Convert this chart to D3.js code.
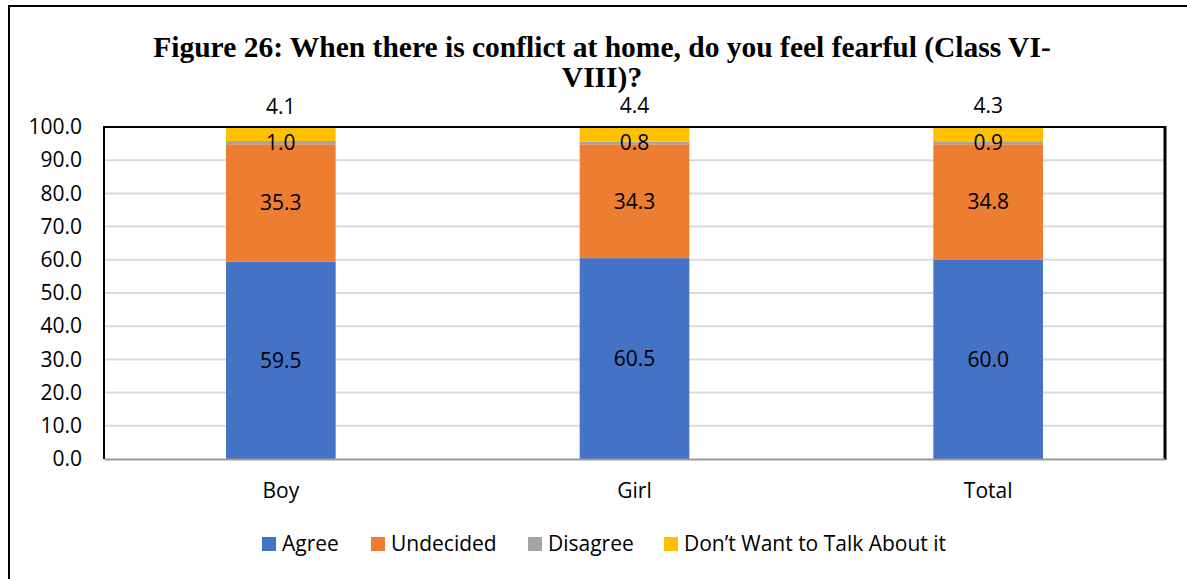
<!DOCTYPE html>
<html>
<head>
<meta charset="utf-8">
<script src="https://cdn.jsdelivr.net/npm/d3@7/dist/d3.min.js"></script>
<style>
  html, body { margin: 0; padding: 0; background: #fff; }
  svg { display: block; }
</style>
</head>
<body>
<svg id="chart" width="1187" height="579"></svg>
<script>
// Responses by group (percent)
const categories = ["Boy", "Girl", "Total"];
const seriesNames = ["Agree", "Undecided", "Disagree", "Don\u2019t Want to Talk About it"];
const agree = [59.5, 60.5, 60.0];
const undecided = [35.3, 34.3, 34.8];
const disagree = [1.0, 0.8, 0.9];
const dontWant = [4.1, 4.4, 4.3];
const yTicks = [0, 10, 20, 30, 40, 50, 60, 70, 80, 90, 100];
const titleLines = ["Figure 26: When there is conflict at home, do you feel fearful (Class VI-", "VIII)?"];

const colors = ["#4472C4", "#ED7D31", "#A5A5A5", "#FFC000"];
const seriesValues = [agree, undecided, disagree, dontWant];

const rows = categories.map((c, i) => {
  const r = { cat: c };
  seriesNames.forEach((s, k) => r[s] = seriesValues[k][i]);
  return r;
});

const svg = d3.select("#chart");
const labelFont = "'Open Sans', sans-serif";
const labelSize = 21;

// outer frame
svg.append("rect")
  .attr("x", 9).attr("y", 6).attr("width", 1200).attr("height", 600)
  .attr("fill", "none").attr("stroke", "#000").attr("stroke-width", 2);

// title
const title = svg.append("text")
  .attr("text-anchor", "middle")
  .attr("font-family", "'Liberation Serif', 'Times New Roman', serif")
  .attr("font-weight", "bold")
  .attr("font-size", 29.5)
  .attr("fill", "#000");
titleLines.forEach((t, i) => {
  title.append("tspan").attr("x", 602).attr("y", 57 + i * 30).text(t);
});

const plotL = 104, plotR = 1165, plotT = 127, plotB = 459;

const x = d3.scaleBand().domain(categories).range([plotL, plotR]).paddingInner(0.69).paddingOuter(0.345);
const y = d3.scaleLinear().domain([0, 100]).range([plotB, plotT]);

// gridlines
svg.append("g")
  .selectAll("line").data(yTicks.filter(d => d > 0 && d < 100)).join("line")
  .attr("x1", plotL).attr("x2", plotR)
  .attr("y1", d => y(d)).attr("y2", d => y(d))
  .attr("stroke", "#d9d9d9").attr("stroke-width", 2);

// stacked bars
const stack = d3.stack().keys(seriesNames);
const stacked = stack(rows);

const layers = svg.append("g").selectAll("g").data(stacked).join("g")
  .attr("fill", (d, i) => colors[i]);

layers.selectAll("rect").data(d => d).join("rect")
  .attr("x", d => x(d.data.cat))
  .attr("width", x.bandwidth())
  .attr("y", d => y(d[1]))
  .attr("height", d => y(d[0]) - y(d[1]));

// plot frame: top, left, right in black
svg.append("line").attr("x1", plotL).attr("x2", plotR).attr("y1", plotT).attr("y2", plotT)
  .attr("stroke", "#000").attr("stroke-width", 2);
svg.append("line").attr("x1", plotL).attr("x2", plotL).attr("y1", plotT - 1).attr("y2", plotB)
  .attr("stroke", "#000").attr("stroke-width", 2);
svg.append("line").attr("x1", plotR).attr("x2", plotR).attr("y1", plotT - 1).attr("y2", plotB + 1)
  .attr("stroke", "#000").attr("stroke-width", 3);

// x axis baseline
const xAxis = svg.append("g").attr("transform", `translate(0,${plotB})`)
  .call(d3.axisBottom(x).tickSize(0).tickPadding(24));
xAxis.select(".domain").attr("stroke", "#999").attr("stroke-width", 2);
xAxis.selectAll("text").attr("font-family", labelFont).attr("font-size", labelSize).attr("fill", "#000");

// y axis labels
const yAxis = svg.append("g").attr("transform", `translate(${plotL},0)`)
  .call(d3.axisLeft(y).tickValues(yTicks).tickFormat(d3.format(".1f")).tickSize(0).tickPadding(22));
yAxis.select(".domain").remove();
yAxis.selectAll("text").attr("font-family", labelFont).attr("font-size", labelSize).attr("fill", "#000");

// value labels (top segment's label sits above the bar)
const labels = svg.append("g")
  .attr("font-family", labelFont).attr("font-size", labelSize).attr("fill", "#000")
  .attr("text-anchor", "middle");
stacked.forEach((layer, k) => {
  layer.forEach(d => {
    const cx = x(d.data.cat) + x.bandwidth() / 2;
    const cy = k === 3 ? y(d[1]) - 21 : (y(d[0]) + y(d[1])) / 2;
    labels.append("text")
      .attr("x", cx).attr("y", cy).attr("dy", "0.35em")
      .text(d3.format(".1f")(d[1] - d[0]));
  });
});

// legend
const legendX = [262, 371, 528, 664];
const legend = svg.append("g");
seriesNames.forEach((s, i) => {
  legend.append("rect").attr("x", legendX[i]).attr("y", 537).attr("width", 14).attr("height", 14).attr("fill", colors[i]);
  legend.append("text").attr("x", legendX[i] + 20).attr("y", 544).attr("dy", "0.35em")
    .attr("font-family", labelFont).attr("font-size", labelSize).attr("fill", "#000").text(s);
});
</script>
</body>
</html>
